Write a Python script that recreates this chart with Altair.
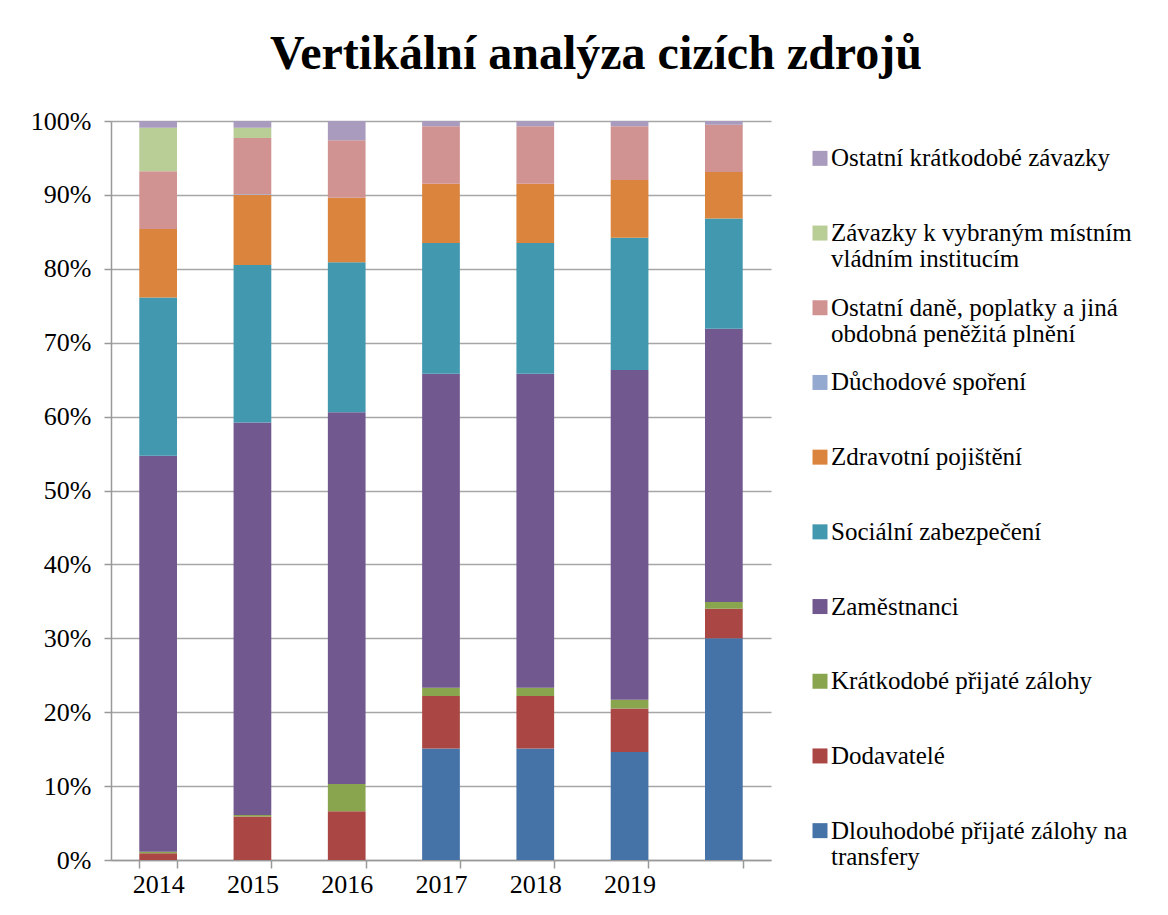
import altair as alt
import pandas as pd

# categories (last column has no label in the original)
categories = ["2014", "2015", "2016", "2017", "2018", "2019", " "]

# series, bottom of the stack first
series = [
    "Dlouhodobé přijaté zálohy na transfery",
    "Dodavatelé",
    "Krátkodobé přijaté zálohy",
    "Zaměstnanci",
    "Sociální zabezpečení",
    "Zdravotní pojištění",
    "Důchodové spoření",
    "Ostatní daně, poplatky a jiná obdobná peněžitá plnění",
    "Závazky k vybraným místním vládním institucím",
    "Ostatní krátkodobé závazky",
]
legend_labels = [
    "Dlouhodobé přijaté zálohy na\ntransfery",
    "Dodavatelé",
    "Krátkodobé přijaté zálohy",
    "Zaměstnanci",
    "Sociální zabezpečení",
    "Zdravotní pojištění",
    "Důchodové spoření",
    "Ostatní daně, poplatky a jiná\nobdobná peněžitá plnění",
    "Závazky k vybraným místním\nvládním institucím",
    "Ostatní krátkodobé závazky",
]
colors = ["#4572A7", "#AA4643", "#89A54E", "#71588F", "#4198AF",
          "#DB843D", "#93A9CF", "#D19392", "#B9CD96", "#A99BBD"]

# shares in percent, one value per category
dlouhodobe = [0.0, 0.0, 0.0, 15.1, 15.1, 14.6, 30.0]
dodavatele = [0.9, 5.9, 6.6, 7.1, 7.1, 5.9, 4.0]
kratkodobe_zalohy = [0.2, 0.2, 3.7, 1.1, 1.1, 1.2, 0.9]
zamestnanci = [53.6, 53.1, 50.3, 42.5, 42.5, 44.6, 37.0]
socialni = [21.4, 21.3, 20.3, 17.7, 17.7, 17.9, 14.9]
zdravotni = [9.3, 9.5, 8.7, 8.0, 8.0, 7.8, 6.3]
duchodove = [0.0, 0.1, 0.0, 0.0, 0.0, 0.0, 0.0]
ostatni_dane = [7.8, 7.6, 7.8, 7.8, 7.8, 7.3, 6.4]
zavazky_vlada = [5.9, 1.4, 0.0, 0.0, 0.0, 0.0, 0.0]
ostatni_kratkodobe = [0.9, 0.9, 2.6, 0.7, 0.7, 0.7, 0.5]

values = [dlouhodobe, dodavatele, kratkodobe_zalohy, zamestnanci, socialni,
          zdravotni, duchodove, ostatni_dane, zavazky_vlada, ostatni_kratkodobe]

rows = []
for si, (name, vals) in enumerate(zip(series, values)):
    for c, v in zip(categories, vals):
        rows.append({"kategorie": c, "polozka": name, "poradi": si, "podil": v / 100})
df = pd.DataFrame(rows)

leg_df = pd.DataFrame({"polozka": series, "label": legend_labels})

FONT = "Liberation Serif"
color_scale = alt.Scale(domain=series, range=colors)

bars = alt.Chart(df).mark_bar().encode(
    x=alt.X("kategorie:N", sort=categories,
            scale=alt.Scale(paddingInner=0.6, paddingOuter=0.3),
            axis=alt.Axis(title=None, labelAngle=0, tickBand="extent",
                          tickSize=8, labelPadding=3, labelFontSize=26,
                          labelFont=FONT, labelColor="#000000",
                          domainColor="#999999", domainWidth=1.5,
                          tickColor="#999999", tickWidth=1.5, grid=False)),
    y=alt.Y("podil:Q", stack="zero",
            scale=alt.Scale(domain=[0, 1], nice=False),
            axis=alt.Axis(title=None, format=".0%",
                          values=[0, 0.1, 0.2, 0.3, 0.4, 0.5, 0.6, 0.7, 0.8, 0.9, 1.0],
                          tickSize=7, labelPadding=13, labelFontSize=26,
                          labelFont=FONT, labelColor="#000000",
                          domainColor="#999999", domainWidth=1.5,
                          tickColor="#999999", tickWidth=1.5,
                          gridColor="#a6a6a6", gridWidth=1.5)),
    color=alt.Color("polozka:N", scale=color_scale, legend=None),
    order=alt.Order("poradi:Q", sort="ascending"),
).properties(width=660, height=739)

leg_y = alt.Y("polozka:N", sort=list(reversed(series)), axis=None)
leg_sq = alt.Chart(leg_df).mark_square(size=225, opacity=1).encode(
    x=alt.value(19),
    y=leg_y,
    color=alt.Color("polozka:N", scale=color_scale, legend=None),
)
leg_tx = alt.Chart(leg_df).mark_text(
    align="left", baseline="alphabetic", dy=8, lineBreak="\n",
    font=FONT, fontSize=25, lineHeight=26, color="#000000",
).encode(
    x=alt.value(30),
    y=leg_y,
    text="label:N",
)
legend = alt.layer(leg_sq, leg_tx).properties(width=330, height=747)

chart = alt.hconcat(bars, legend, spacing=30, bounds="flush").properties(
    title=alt.TitleParams("Vertikální analýza cizích zdrojů", font=FONT,
                          fontSize=48, fontWeight="bold", color="#000000",
                          anchor="middle", offset=29, dx=15),
    padding={"left": 21, "top": 22, "right": 5, "bottom": 5},
    background="#ffffff",
).configure_view(stroke="transparent")

chart.save("out.html", embed_options={"renderer": "svg", "actions": False})
